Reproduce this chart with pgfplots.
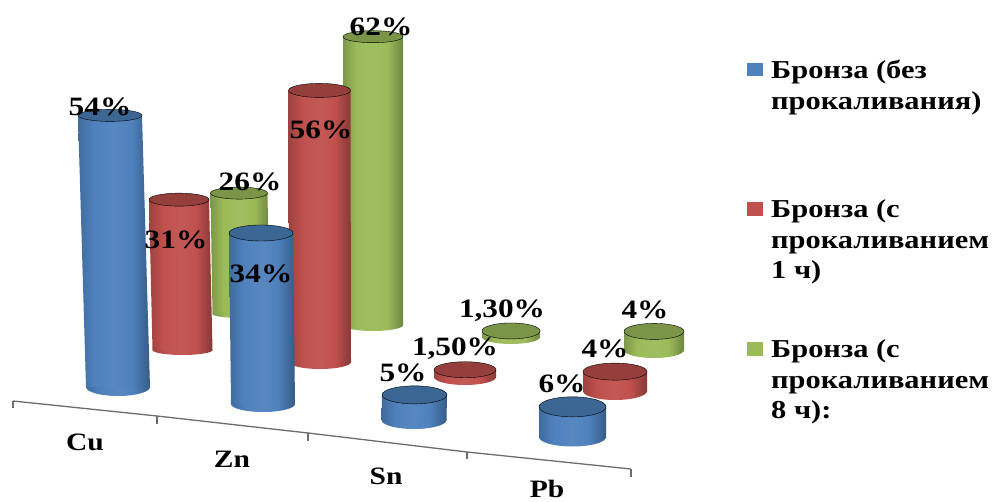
\documentclass[border=0pt]{standalone}
\usepackage{pgfplots}
\pgfplotsset{compat=1.18}
\usepackage{fontspec}
\setmainfont{Liberation Serif}[FakeStretch=1.18]

% Flat colours of the three series and the darker lids of the cylinders
\definecolor{serB}{HTML}{4F81BD}
\definecolor{serR}{HTML}{C0504D}
\definecolor{serG}{HTML}{9BBB59}
\definecolor{lidB}{HTML}{3C6694}
\definecolor{lidR}{HTML}{953F3D}
\definecolor{lidG}{HTML}{7A9448}

% Side shading of the cylinder walls (the inner 50bp span the wall)
\pgfdeclarehorizontalshading{wallB}{100bp}{color(0bp)=(lidB!80!serB); color(25bp)=(lidB!80!serB); color(36bp)=(serB); color(50bp)=(serB!95!white); color(62bp)=(serB); color(75bp)=(lidB!90!black); color(100bp)=(lidB!90!black)}
\pgfdeclarehorizontalshading{wallR}{100bp}{color(0bp)=(lidR!80!serR); color(25bp)=(lidR!80!serR); color(36bp)=(serR); color(50bp)=(serR!95!white); color(62bp)=(serR); color(75bp)=(lidR!90!black); color(100bp)=(lidR!90!black)}
\pgfdeclarehorizontalshading{wallG}{100bp}{color(0bp)=(lidG!90!serG); color(25bp)=(lidG!90!serG); color(36bp)=(serG); color(50bp)=(serG!95!white); color(62bp)=(serG); color(75bp)=(lidG!90!black); color(100bp)=(lidG!90!black)}

% Rounded foot of a cylinder: a unit disc carrying the wall shading
\pgfdeclareplotmark{footB}{\pgfpathellipse{\pgfpointorigin}{\pgfqpoint{1pt}{0pt}}{\pgfqpoint{0pt}{1pt}}\pgfshadepath{wallB}{0}\pgfusepath{discard}}
\pgfdeclareplotmark{footR}{\pgfpathellipse{\pgfpointorigin}{\pgfqpoint{1pt}{0pt}}{\pgfqpoint{0pt}{1pt}}\pgfshadepath{wallR}{0}\pgfusepath{discard}}
\pgfdeclareplotmark{footG}{\pgfpathellipse{\pgfpointorigin}{\pgfqpoint{1pt}{0pt}}{\pgfqpoint{0pt}{1pt}}\pgfshadepath{wallG}{0}\pgfusepath{discard}}

% Vertical scale of each series in the receding rows
\def\unitB{5.03}
\def\unitR{4.85}
\def\unitG{4.65}

% #1 series, #2 foot x, #3 foot y, #4 lid x, #5 value in %, #6 radius, #7 foot flattening, #8 lid flattening
\newcommand{\cyl}[8]{%
  \pgfmathsetmacro{\topy}{#3-#5*\csname unit#1\endcsname}%
  \pgfmathsetmacro{\xa}{#2-#6}\pgfmathsetmacro{\xb}{#2+#6}%
  \pgfmathsetmacro{\xc}{#4+#6}\pgfmathsetmacro{\xd}{#4-#6}%
  \edef\drawcyl{%
    \noexpand\addplot[only marks, mark=foot#1, mark size=1pt, mark options={xscale=#6, yscale=#7}] coordinates {(#2,#3)};
    \noexpand\addplot[draw=none, shade, shading=wall#1] coordinates {(\xa,#3) (\xb,#3) (\xc,\topy) (\xd,\topy)} --cycle;
    \noexpand\addplot[only marks, mark=*, mark size=1pt, mark options={xscale=#6, yscale=#8, draw=none, fill=lid#1}] coordinates {(#4,\topy)};
  }\drawcyl
}

% Text styles
\newfontfamily\legfont{Liberation Serif}[FakeStretch=1.18]
\tikzset{
  val/.style={anchor=base, inner sep=0pt, font=\fontsize{26.5}{26.5}\selectfont\bfseries},
  cat/.style={anchor=base, inner sep=0pt, font=\fontsize{25}{25}\selectfont\bfseries},
  leg/.style={anchor=base west, inner sep=0pt, font=\legfont\fontsize{25.8}{25.8}\selectfont\bfseries},
}

\begin{document}
\begin{tikzpicture}
\path[use as bounding box] (0,0) rectangle (992pt,502pt);
\clip (0,0) rectangle (992pt,502pt);
\begin{axis}[
  at={(0,0)}, anchor=south west,
  scale only axis, width=992pt, height=502pt,
  xmin=0, xmax=992, ymin=0, ymax=502,
  y dir=reverse, hide axis, clip=false, clip marker paths=true,
]
% Floor axis with its tick marks
\addplot[draw=gray!85!black, line width=1.3pt] coordinates {(13,401) (157,416) (308,433) (467,452) (631,469)};
\addplot[draw=gray!85!black, line width=1.3pt] coordinates {(13,401) (13,408)};
\addplot[draw=gray!85!black, line width=1.3pt] coordinates {(157,416) (157,424)};
\addplot[draw=gray!85!black, line width=1.3pt] coordinates {(308,433) (308,441)};
\addplot[draw=gray!85!black, line width=1.3pt] coordinates {(467,452) (467,459)};
\addplot[draw=gray!85!black, line width=1.3pt] coordinates {(631,469) (631,477)};

% Back row: annealed 8 h
\cyl{G}{241}{314}{239}{26}{28.5}{4}{6}
\cyl{G}{373}{325}{373}{62}{30}{6}{6}
\cyl{G}{511}{337}{511}{1.3}{29}{7}{8}
\cyl{G}{654}{350}{654}{4}{30}{8}{8}
% Middle row: annealed 1 h
\cyl{R}{182.5}{350}{179}{31}{30}{5}{6.5}
\cyl{R}{320}{362}{319.5}{56}{31}{7}{7}
\cyl{R}{465}{377}{465}{1.5}{31}{8}{8}
\cyl{R}{615}{391}{615}{4}{32}{9}{8.5}
% Front row: no annealing
\cyl{B}{118}{387}{110}{54}{32}{9}{6}
\cyl{B}{263}{404}{261}{34}{32}{8}{8}
\cyl{B}{414}{420}{414.5}{5}{32.5}{9}{9}
\cyl{B}{572.5}{437}{572.5}{6}{33.5}{9.5}{10}

% Value labels
\node[val] at (axis cs:100,116) {54\%};
\node[val] at (axis cs:176,249) {31\%};
\node[val] at (axis cs:250,191) {26\%};
\node[val] at (axis cs:261,283) {34\%};
\node[val] at (axis cs:321,139) {56\%};
\node[val] at (axis cs:381,36) {62\%};
\node[val] at (axis cs:403,381) {5\%};
\node[val] at (axis cs:455,355) {1,50\%};
\node[val] at (axis cs:502,317) {1,30\%};
\node[val] at (axis cs:562,392) {6\%};
\node[val] at (axis cs:605,357) {4\%};
\node[val] at (axis cs:645,318) {4\%};

% Category names
\node[cat] at (axis cs:85,450) {Cu};
\node[cat] at (axis cs:232,467) {Zn};
\node[cat] at (axis cs:386,484) {Sn};
\node[cat] at (axis cs:547,497) {Pb};

% Legend keys
\addplot[fill=serB, draw=none] coordinates {(747,63) (763,63) (763,76) (747,76)} --cycle;
\addplot[fill=serR, draw=none] coordinates {(747,202) (763,202) (763,216) (747,216)} --cycle;
\addplot[fill=serG, draw=none] coordinates {(747,342) (763,342) (763,356) (747,356)} --cycle;

% Legend text
\node[leg] at (axis cs:771,79) {Бронза (без};
\node[leg] at (axis cs:771,110) {прокаливания)};
\node[leg] at (axis cs:771,218) {Бронза (с};
\node[leg] at (axis cs:771,249) {прокаливанием};
\node[leg] at (axis cs:771,279) {1 ч)};
\node[leg] at (axis cs:771,357) {Бронза (с};
\node[leg] at (axis cs:771,388) {прокаливанием};
\node[leg] at (axis cs:771,418) {8 ч):};
\end{axis}
\end{tikzpicture}
\end{document}
